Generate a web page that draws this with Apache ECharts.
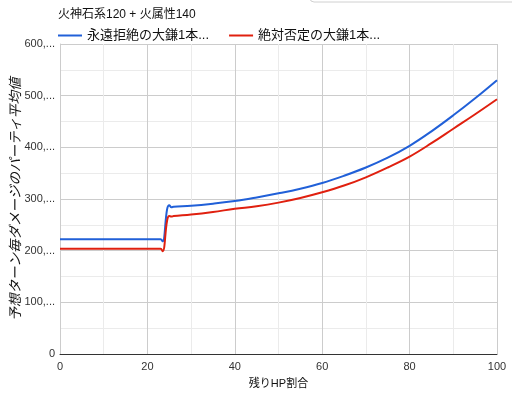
<!DOCTYPE html>
<html><head><meta charset="utf-8">
<script src="https://cdn.jsdelivr.net/npm/echarts@6/dist/echarts.min.js"></script>
<style>html,body{margin:0;padding:0;background:#fff}#c{width:512px;height:394px}</style>
</head><body><div id="c"></div>
<script>
const titleText = '火神石系120 + 火属性140';
const seriesNames = ['永遠拒絶の大鎌1本...', '絶対否定の大鎌1本...'];
const hpPercent = [0, 5, 10, 15, 20, 23, 23.5, 24.5, 25, 25.5, 26, 30, 35, 40, 45, 50, 55, 60, 65, 70, 75, 80, 85, 90, 95, 100];
const blueValues = [222, 222, 222, 222, 222, 222, 218, 280, 288, 284, 285, 287, 291, 296, 303, 311, 320, 331, 345, 361, 380, 403, 431, 462, 495, 530];
const redValues  = [203.5, 203.5, 203.5, 203.5, 203.5, 203.5, 199, 258, 267, 266, 267, 270, 275, 281, 286, 293, 302, 313, 326, 342, 361, 382, 408, 436, 464, 493];
const yTickValues = [0, 100, 200, 300, 400, 500, 600];
const yTickLabels = ['0', '100,...', '200,...', '300,...', '400,...', '500,...', '600,...'];
const xAxisName = '残りHP割合';
const yAxisName = '予想ターン毎ダメージのパーティ平均値';
const colors = ['#2160d8', '#e0200f'];

const font = 'Arial, "Liberation Sans", "Noto Sans CJK JP", sans-serif';
const chart = echarts.init(document.getElementById('c'), null, {renderer: 'canvas'});
const toPairs = vals => hpPercent.map((x, i) => [x, vals[i]]);
chart.setOption({
  animation: false,
  color: colors,
  title: {text: titleText, left: 53, top: 4, textStyle: {fontFamily: font, fontSize: 12, fontWeight: 'normal', color: '#111'}},
  legend: {
    left: 53, top: 24, itemWidth: 24, itemHeight: 2, itemGap: 20, icon: 'rect',
    textStyle: {fontFamily: font, fontSize: 13, color: '#111'},
    data: seriesNames
  },
  graphic: [{type: 'rect', shape: {x: 310, y: -12, width: 230, height: 14, r: 4}, style: {fill: '#fff', stroke: '#d0d0d0', lineWidth: 1}}],
  grid: {left: 60, right: 15, top: 44, bottom: 40, containLabel: false, outerBoundsMode: 'none'},
  xAxis: {
    type: 'value', min: 0, max: 100, interval: 20,
    name: xAxisName, nameLocation: 'middle', nameGap: 24,
    nameTextStyle: {fontFamily: font, fontSize: 11, color: '#111'},
    axisLine: {show: true, lineStyle: {color: '#333', width: 1}},
    axisTick: {show: false},
    axisLabel: {fontFamily: font, fontSize: 11, color: '#333', margin: 7},
    splitLine: {show: true, lineStyle: {color: '#cccccc'}},
    minorTick: {show: false, splitNumber: 2},
    minorSplitLine: {show: true, lineStyle: {color: '#ebebeb'}}
  },
  yAxis: {
    type: 'value', min: 0, max: 600, interval: 100,
    name: yAxisName, nameLocation: 'middle', nameGap: 37, nameRotate: 90, nameMoveOverlap: false,
    nameTextStyle: {fontFamily: font, fontSize: 13.5, color: '#111', fontStyle: 'italic'},
    axisLine: {show: true, lineStyle: {color: '#cccccc'}},
    axisTick: {show: false},
    axisLabel: {fontFamily: font, fontSize: 11, color: '#333', margin: 5,
      formatter: v => yTickLabels[yTickValues.indexOf(v)]},
    splitLine: {show: true, lineStyle: {color: '#cccccc'}},
    minorTick: {show: false, splitNumber: 2},
    minorSplitLine: {show: true, lineStyle: {color: '#ebebeb'}}
  },
  series: [
    {name: seriesNames[0], type: 'line', data: toPairs(blueValues), showSymbol: false, smooth: 0.4, lineStyle: {width: 2}},
    {name: seriesNames[1], type: 'line', data: toPairs(redValues), showSymbol: false, smooth: 0.4, lineStyle: {width: 2}}
  ]
});
</script></body></html>
